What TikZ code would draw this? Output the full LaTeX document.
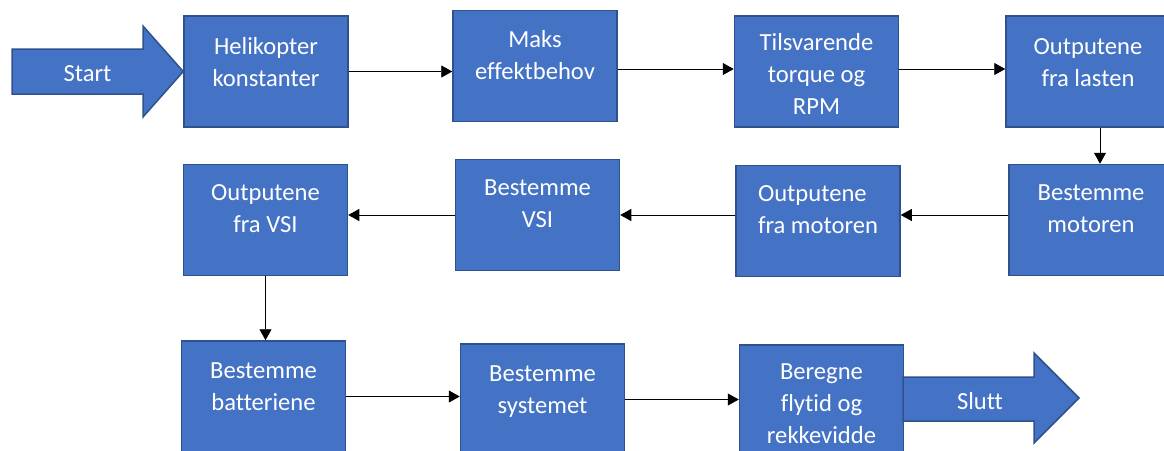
\documentclass[tikz,border=0pt]{standalone}
\usepackage{fontspec}
\setmainfont[Ligatures=NoCommon]{Carlito}
\usepackage{xcolor}
\usepackage{tikz}
\usetikzlibrary{calc}
\usetikzlibrary{arrows.meta}
\definecolor{blaa}{HTML}{4472C4}
\definecolor{kant}{HTML}{2F528F}
\tikzstyle{blokk} = [draw=kant, fill=blaa, line width=0.03cm, inner sep=0pt, text=white, font=\fontsize{14}{18.4}\selectfont]
\tikzstyle{blokkpil} = [draw=kant, fill=blaa, line width=0.03cm]
\tikzstyle{piltekst} = [text=white, font=\fontsize{14}{18.4}\selectfont]
\tikzstyle{pil} = [line width=0.5pt, -{Triangle[length=0.22cm,width=0.24cm]}]
\newcommand{\blokt}[2][0.76cm]{\begin{minipage}[c][2.22cm][t]{3.28cm}\centering\rule{0pt}{#1}#2\end{minipage}}

\begin{document}
\begin{tikzpicture}
    \useasboundingbox (0,0) rectangle (23.28,-9.0);

    % first row
    \node[blokk] (heli) at (5.32,-1.43) {\blokt{Helikopter\\konstanter}};
    \node[blokk] (maks) at (10.70,-1.32) {\blokt[0.74cm]{Maks\\effektbehov}};
    \node[blokk] (tils) at (16.33,-1.43) {\blokt[0.68cm]{Tilsvarende\\torque og\\RPM}};
    \node[blokk] (lasten) at (21.76,-1.43) {\blokt{Outputene\\fra lasten}};

    % second row
    \node[blokk] (motor) at (21.82,-4.40) {\blokt[0.72cm]{Bestemme\\motoren}};
    \node[blokk] (utmotor) at (16.36,-4.42) {\blokt[0.72cm]{\begin{tabular}[t]{@{}l@{}}Outputene\\fra motoren\end{tabular}}};
    \node[blokk] (vsi) at (10.75,-4.30) {\blokt[0.72cm]{Bestemme\\VSI}};
    \node[blokk] (utvsi) at (5.31,-4.40) {\blokt[0.72cm]{Outputene\\fra VSI}};

    % third row
    \node[blokk] (batt) at (5.27,-7.93) {\blokt[0.74cm]{Bestemme\\batteriene}};
    \node[blokk] (system) at (10.85,-7.99) {\blokt[0.74cm]{Bestemme\\systemet}};
    \node[blokk] (beregn) at (16.43,-8.01) {\blokt[0.68cm]{Beregne\\flytid og\\rekkevidde}};

    % start and stop
    \draw[blokkpil] (0.24,-0.98) -- (2.86,-0.98) -- (2.86,-0.52) -- (heli.west)
        -- (2.86,-2.34) -- (2.86,-1.88) -- (0.24,-1.88) -- cycle;
    \node[piltekst] (start) at (1.75,-1.48) {Start};
    \coordinate (sluttspiss) at (21.58,-7.96);
    \draw[blokkpil] (18.06,-7.54) -- (20.68,-7.54) -- (20.68,-7.06) -- (sluttspiss)
        -- (20.68,-8.86) -- (20.68,-8.42) -- (18.06,-8.42) -- cycle;
    \node[piltekst] (slutt) at (19.60,-8.02) {Slutt};

    \draw[pil] (heli.east) -- (heli.east -| maks.west);
    \draw[pil] ([yshift=-0.06cm]maks.east) -- ([yshift=-0.06cm]maks.east -| tils.west);
    \draw[pil] ([yshift=0.05cm]tils.east) -- ([yshift=0.05cm]tils.east -| lasten.west);
    \draw[pil] ([xshift=0.24cm]lasten.south) -- ([xshift=0.24cm]lasten.south |- motor.north);
    \draw[pil] ([yshift=0.1cm]motor.west) -- ([yshift=0.1cm]motor.west -| utmotor.east);
    \draw[pil] (utmotor.west |- vsi.east) -- (vsi.east);
    \draw[pil] (vsi.west) -- (vsi.west -| utvsi.east);
    \draw[pil] (utvsi.south) -- (utvsi.south |- batt.north);
    \draw[pil] (batt.east) -- (batt.east -| system.west);
    \draw[pil] (system.east) -- (system.east -| beregn.west);
\end{tikzpicture}
\end{document}
